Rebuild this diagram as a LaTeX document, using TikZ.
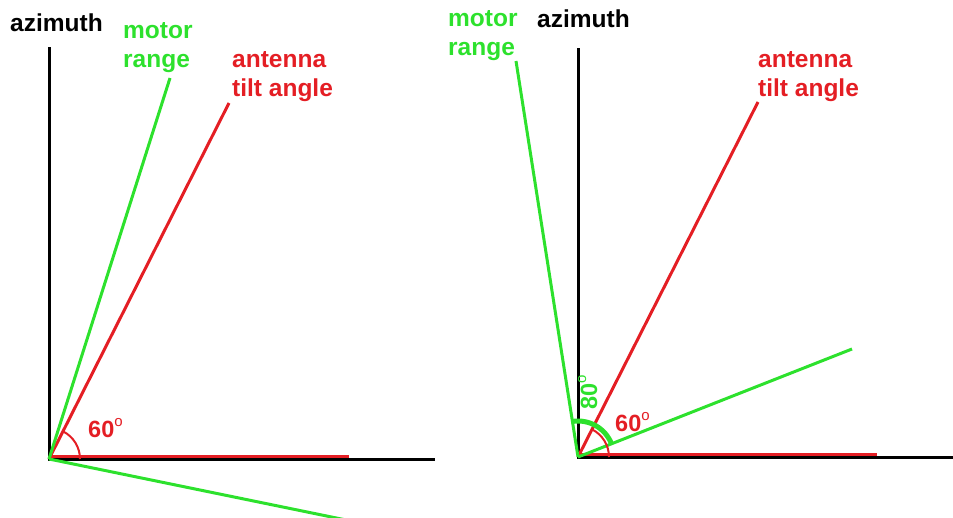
\documentclass[tikz,border=0pt]{standalone}
\usepackage{fontspec}
\setmainfont{Liberation Sans}
\definecolor{mygreen}{RGB}{45,225,45}
\definecolor{myred}{RGB}{228,30,36}
\newcommand{\degsign}{\raisebox{11pt}{\fontsize{15}{15}\selectfont\mdseries o}}
\begin{document}
\begin{tikzpicture}[x=1pt,y=1pt,
  axis/.style={line width=3pt,black},
  redline/.style={line width=3pt,myred},
  grnline/.style={line width=3pt,mygreen},
  redarc/.style={line width=2pt,myred},
  grnarc/.style={line width=5pt,mygreen},
  lbl/.style={font=\bfseries\fontsize{24.5}{29}\selectfont, inner sep=0pt, anchor=base west, align=left},
  deglbl/.style={font=\bfseries\fontsize{23.5}{23.5}\selectfont, inner sep=0pt, anchor=base west}]
\useasboundingbox (0,0) rectangle (953,-517);
\clip (0,0) rectangle (953,-517);
% ---------- left panel ----------
\coordinate (O1) at (49,-459);
\coordinate (A1) at (49,-47);
\coordinate (X1) at (435,-459);
\coordinate (RH1s) at (49,-456);
\coordinate (RH1e) at (349,-456);
\coordinate (T1) at (229,-103);
\coordinate (M1) at (170,-78);
\coordinate (L1) at (390,-529);
\draw[axis] (A1) -- (O1) -- (X1);
\draw[redline] (RH1s) -- (RH1e);
\draw[redline] (O1) -- (T1);
\draw[grnline] (O1) -- (M1);
\draw[grnline] (O1) -- (L1);
\draw[redarc] (O1) ++(31,0) arc[start angle=0,end angle=63.2,radius=31];
\node[lbl] (az1) at (10,-31) {azimuth};
\node[lbl,text=mygreen] (mr1) at (123,-67) {motor\\range};
\node[lbl,text=myred] (ta1) at (232,-96) {antenna\\tilt angle};
\node[deglbl,text=myred] (d1) at (88,-437) {60\degsign};
% ---------- right panel ----------
\coordinate (O2) at (578,-457);
\coordinate (A2) at (578,-48);
\coordinate (X2) at (953,-457);
\coordinate (RH2s) at (578,-454);
\coordinate (RH2e) at (877,-454);
\coordinate (T2) at (758,-102);
\coordinate (M2) at (516,-61);
\coordinate (G2) at (852,-349);
\draw[axis] (A2) -- (O2) -- (X2);
\draw[redline] (RH2s) -- (RH2e);
\draw[redline] (O2) -- (T2);
\draw[grnline] (O2) -- (M2);
\draw[grnline] (O2) -- (G2);
\draw[grnarc] (O2) ++(21.5:36) arc[start angle=21.5,end angle=99,radius=36];
\draw[redarc] (O2) ++(31,0) arc[start angle=0,end angle=63.1,radius=31];
\node[lbl,text=mygreen] (mr2) at (448,-55) {motor\\range};
\node[lbl] (az2) at (537,-27) {azimuth};
\node[lbl,text=myred] (ta2) at (758,-96) {antenna\\tilt angle};
\node[deglbl,text=myred] (d2) at (615,-431) {60\degsign};
\node[deglbl,text=mygreen,rotate=90] (d3) at (597,-410) {80\degsign};
\end{tikzpicture}
\end{document}
